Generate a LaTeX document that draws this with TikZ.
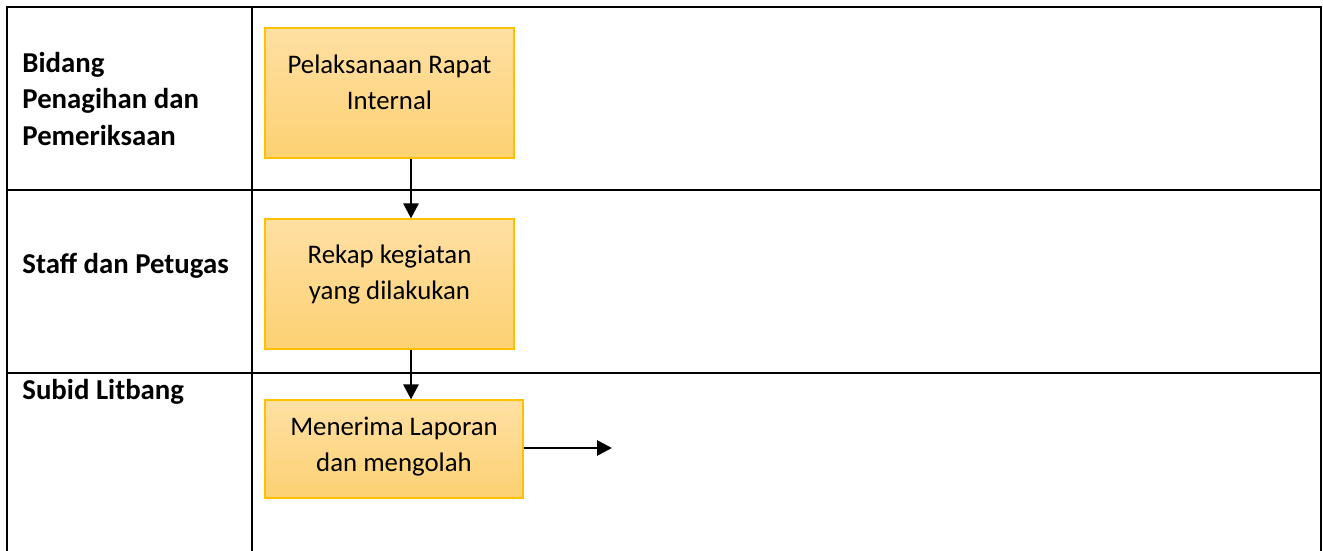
\documentclass[tikz,border=0pt]{standalone}
\usepackage{fontspec}
\setmainfont{Carlito}
\usetikzlibrary{arrows.meta}
\definecolor{boxtop}{HTML}{FFE0A3}
\definecolor{boxbot}{HTML}{FDD173}
\definecolor{boxline}{HTML}{FFC000}
\tikzset{
  frame/.style={line width=1.4pt, black},
  stepbox/.style={draw=boxline, line width=0.6pt, top color=boxtop, bottom color=boxbot,
    rectangle, inner sep=0pt},
  boxtext/.style={align=center, font=\fontsize{13.4}{18}\selectfont, inner sep=0pt},
  lanename/.style={anchor=west, align=left, font=\fontsize{14.4}{18.3}\selectfont\bfseries, inner sep=0pt},
  flow/.style={line width=1.4pt, -{Triangle[length=7.5pt,width=7.5pt]}}
}
\begin{document}
\begin{tikzpicture}[x=0.5pt, y=-0.5pt]
\useasboundingbox (0,0) rectangle (1323,551);
% swimlane frame
\draw[frame] (7,552) -- (7,7) -- (1321,7) -- (1321,552);
\draw[frame] (252,7) -- (252,552);
\draw[frame] (7,190) -- (1321,190);
\draw[frame] (7,373) -- (1321,373);
% lane names
\node[lanename] (lane1) at (22,99) {Bidang\\Penagihan dan\\Pemeriksaan};
\node[lanename] (lane2) at (22,266) {Staff dan Petugas};
\node[lanename] (lane3) at (22,392) {Subid Litbang};
% process boxes
\node[stepbox, minimum width=124.5pt, minimum height=65pt] (b1) at (389.5,93) {};
\node[stepbox, minimum width=124.5pt, minimum height=65pt] (b2) at (389.5,284) {};
\node[stepbox, minimum width=129pt, minimum height=49pt] (b3) at (394,449) {};
\node[boxtext] (t1) at (389.5,82) {Pelaksanaan Rapat\\Internal};
\node[boxtext] (t2) at (389.5,274) {Rekap kegiatan\\yang dilakukan};
\node[boxtext] (t3) at (394,447) {Menerima Laporan\\dan mengolah};
\coordinate (out) at (612,448);
% connectors
\draw[flow] (b1.south -| 411,0) -- (b2.north -| 411,0);
\draw[flow] (b2.south -| 411,0) -- (b3.north -| 411,0);
\draw[flow] (b3.east |- out) -- (out);
\end{tikzpicture}
\end{document}
